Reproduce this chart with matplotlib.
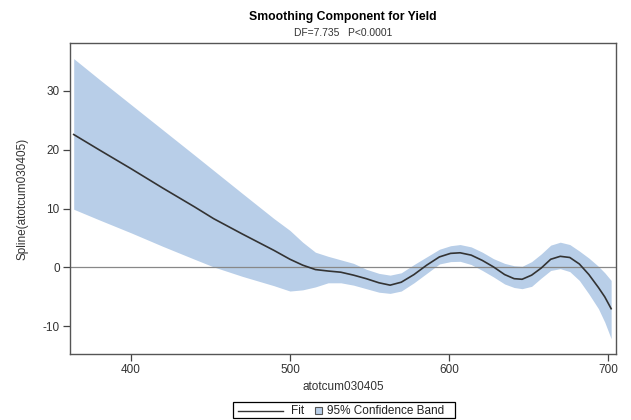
import matplotlib
matplotlib.use("Agg")
import matplotlib.pyplot as plt
from matplotlib.lines import Line2D
from matplotlib.patches import Rectangle

plt.rcParams['font.family'] = ['Liberation Sans', 'DejaVu Sans']
plt.rcParams['axes.unicode_minus'] = False

# Spline fit and 95% band
xs = [364, 380, 400, 420, 440, 452, 470, 490, 500, 508, 516, 524, 532, 540, 548, 556,
      563, 570, 578, 586, 594, 601, 607, 614, 621, 628, 635, 641, 646, 652, 658, 664,
      670, 676, 682, 688, 694, 698, 702]
fit = [22.6, 20.0, 16.8, 13.5, 10.3, 8.3, 5.7, 2.9, 1.4, 0.4, -0.35, -0.6, -0.8, -1.3, -1.9, -2.6,
       -3.0, -2.5, -1.2, 0.4, 1.8, 2.4, 2.5, 2.1, 1.2, 0.1, -1.2, -1.9, -2.0, -1.3, -0.1, 1.4,
       1.9, 1.7, 0.6, -1.2, -3.4, -5.0, -7.0]
upper = [35.5, 32.0, 27.7, 23.4, 19.1, 16.5, 12.6, 8.3, 6.3, 4.3, 2.6, 1.9, 1.3, 0.7, -0.3, -1.0,
         -1.3, -0.9, 0.5, 1.8, 3.1, 3.7, 3.9, 3.5, 2.6, 1.5, 0.7, 0.3, 0.2, 1.0, 2.3, 3.8,
         4.3, 3.9, 2.8, 1.6, 0.2, -0.9, -2.2]
lower = [9.9, 8.1, 5.9, 3.6, 1.4, 0.1, -1.5, -3.1, -4.0, -3.8, -3.3, -2.6, -2.6, -3.0, -3.6, -4.2,
         -4.4, -4.0, -2.6, -1.0, 0.6, 1.0, 1.05, 0.5, -0.5, -1.6, -2.8, -3.4, -3.6, -3.2, -1.8, -0.5,
         -0.2, -0.7, -2.2, -4.5, -7.0, -9.3, -12.1]

xticks = [400, 500, 600, 700]
yticks = [-10, 0, 10, 20, 30]
legend_labels = ['Fit', '95% Confidence Band']

W, H = 631, 420
fig = plt.figure(figsize=(W / 100, H / 100), dpi=100)
ax = fig.add_axes([70.2 / W, 1 - 354 / H, (615.6 - 70.2) / W, (354 - 43.3) / H])

band_color = '#b8cee8'
line_color = '#333333'
ax.fill_between(xs, lower, upper, color=band_color, linewidth=0)
ax.axhline(0, color='#888888', linewidth=0.9)
ax.plot(xs, fit, color=line_color, linewidth=1.2)

ax.set_xlim(361.8, 704.8)
ax.set_ylim(-14.7, 38.1)
ax.set_xticks(xticks)
ax.set_yticks(yticks)
ax.tick_params(direction='out', length=5, width=0.9, color='#444444',
               labelsize=8.5, labelcolor='#333333', pad=2.5)
for s in ax.spines.values():
    s.set_color('#555555')
    s.set_linewidth(1.0)

ax.set_xlabel('atotcum030405', fontsize=8.5, color='#333333', labelpad=3)
ax.set_ylabel('Spline(atotcum030405)', fontsize=8.5, color='#333333', labelpad=10)

fig.text(0.543, 1 - 17 / H, 'Smoothing Component for Yield', ha='center', va='center',
         fontsize=8.8, fontweight='bold', color='black')
fig.text(0.543, 1 - 33 / H, 'DF=7.735   P<0.0001', ha='center', va='center',
         fontsize=7.4, color='#333333')

# legend drawn by hand: long line, "Fit", small square, label
def fx(px):
    return px / W

def fy(py):
    return 1 - py / H

fig.add_artist(Rectangle((fx(233), fy(418)), fx(455) - fx(233), fy(402) - fy(418),
                         transform=fig.transFigure, facecolor='white', edgecolor='black',
                         linewidth=0.9))
fig.add_artist(Line2D([fx(238), fx(283)], [fy(410.5), fy(410.5)], transform=fig.transFigure,
                      color=line_color, linewidth=1.0))
fig.text(fx(291), fy(410.5), legend_labels[0], ha='left', va='center', fontsize=8.5, color='#222222')
fig.add_artist(Rectangle((fx(315), fy(414)), fx(322) - fx(315), fy(407) - fy(414),
                         transform=fig.transFigure, facecolor=band_color, edgecolor='#555555',
                         linewidth=0.8))
fig.text(fx(327), fy(410.5), legend_labels[1], ha='left', va='center', fontsize=8.5, color='#222222')

fig.savefig('out.png', dpi=100)
